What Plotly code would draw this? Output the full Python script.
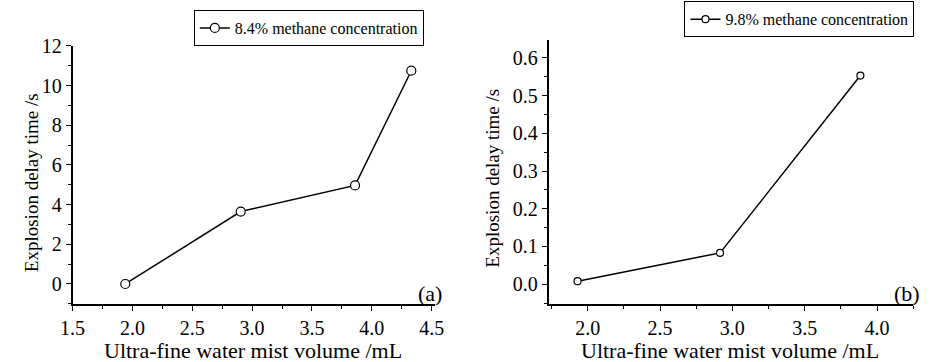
import plotly.graph_objects as go

# Panel (a)
vol_a = [1.94, 2.905, 3.86, 4.33]
delay_a = [0.0, 3.65, 4.97, 10.75]
# Panel (b)
vol_b = [1.93, 2.915, 3.885]
delay_b = [0.008, 0.083, 0.553]

name_a = "8.4% methane concentration"
name_b = "9.8% methane concentration"
xtitle = "Ultra-fine water mist volume /mL"
ytitle = "Explosion delay time /s"

W, H = 931, 362
FONT = "Liberation Serif, Times New Roman, serif"

fig = go.Figure()
fig.add_trace(go.Scatter(x=vol_a, y=delay_a, mode="lines+markers", name=name_a,
                         line=dict(color="black", width=1.5),
                         marker=dict(symbol="circle", size=9, color="white",
                                     line=dict(color="black", width=1.2)),
                         xaxis="x", yaxis="y", legend="legend"))
fig.add_trace(go.Scatter(x=vol_b, y=delay_b, mode="lines+markers", name=name_b,
                         line=dict(color="black", width=1.5),
                         marker=dict(symbol="circle", size=7, color="white",
                                     line=dict(color="black", width=1.2)),
                         xaxis="x2", yaxis="y2", legend="legend2"))

fig.update_layout(
    width=W, height=H, margin=dict(l=0, r=0, t=0, b=0),
    paper_bgcolor="white", plot_bgcolor="white",
    font=dict(family=FONT, color="black", size=18),
    xaxis=dict(domain=[62/W, 433/W], range=[1.5, 4.53], dtick=0.5, tickformat=".1f",
               anchor="y", minor=dict(dtick=0.25)),
    yaxis=dict(domain=[1-302/H, 1-36/H], range=[-1, 12], dtick=2, anchor="x",
               minor=dict(dtick=1)),
    xaxis2=dict(domain=[549/W, 922/W], range=[1.73, 4.25], dtick=0.5, tickformat=".1f",
                tick0=2.0, anchor="y2", minor=dict(dtick=0.25)),
    yaxis2=dict(domain=[1-302/H, 1-30/H], range=[-0.052, 0.647], dtick=0.1,
                tickformat=".1f", anchor="x2", minor=dict(dtick=0.05)),
    legend=dict(x=186/W, y=1+1/H, xanchor="left", yanchor="top",
                bordercolor="black", borderwidth=1, bgcolor="white",
                font=dict(family=FONT, size=16, color="black"),
                itemwidth=30, tracegroupgap=0),
    legend2=dict(x=688/W, y=1+10/H, xanchor="left", yanchor="top",
                 bordercolor="black", borderwidth=1, bgcolor="white",
                 font=dict(family=FONT, size=16, color="black"),
                 itemwidth=30, tracegroupgap=0),
    showlegend=True,
)
fig.update_xaxes(showline=True, linecolor="black", linewidth=1.5, ticks="outside",
                 ticklen=5, tickwidth=1.2, tickcolor="black", showgrid=False,
                 zeroline=False, tickfont=dict(family=FONT, size=20, color="black"),
                 minor_ticks="outside", minor_ticklen=3, minor_tickwidth=1,
                 minor_tickcolor="black", minor_showgrid=False)
fig.update_yaxes(showline=True, linecolor="black", linewidth=1.5, ticks="outside",
                 ticklen=5, tickwidth=1.2, tickcolor="black", showgrid=False,
                 zeroline=False, tickfont=dict(family=FONT, size=20, color="black"),
                 minor_ticks="outside", minor_ticklen=3, minor_tickwidth=1,
                 minor_tickcolor="black", minor_showgrid=False)

xf = dict(family=FONT, size=22, color="black")
yf = dict(family=FONT, size=19, color="black")
ann = [
    dict(text=xtitle, x=247/W, y=1-350/H, xanchor="center", yanchor="middle", font=xf),
    dict(text=xtitle, x=735/W, y=1-350/H, xanchor="center", yanchor="middle", font=xf),
    dict(text=ytitle, x=20/W, y=1-177/H, xanchor="center", yanchor="middle",
         textangle=-90, font=yf),
    dict(text=ytitle, x=492/W, y=1-172/H, xanchor="center", yanchor="middle",
         textangle=-90, font=yf),
    dict(text="(a)", x=442/W, y=1-291/H, xanchor="right", yanchor="middle", font=xf),
    dict(text="(b)", x=931/W, y=1-291/H, xanchor="right", yanchor="middle", font=xf),
]
for a in ann:
    a.update(xref="paper", yref="paper", showarrow=False)
fig.update_layout(annotations=ann)

fig.write_html("out.html")
